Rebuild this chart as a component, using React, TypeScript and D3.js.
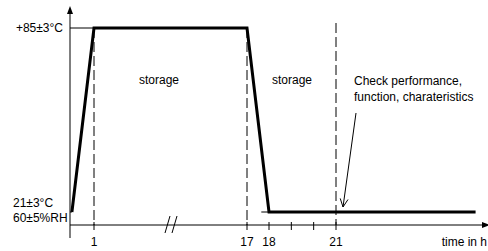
import * as d3 from 'd3'

// temperature profile (hours, °C)
const profileHours = [0.08, 1, 17, 18, 27.25]
const profileTemps = [21, 85, 85, 21, 21]
const dashedHours = [1, 17, 21]
const tickHours = [1, 17, 18, 19, 20, 21]
const tickLabels = ['1', '17', '18', '21']
const levelLabels = ['+85±3°C', '21±3°C', '60±5%RH']
const regionLabels = ['storage', 'storage']
const noteLines = ['Check performance,', 'function, charateristics']

const W = 488
const H = 251

export default function App() {
  // broken time axis: 1 → 17 squeezed
  const x = d3.scaleLinear().domain([0, 1, 17, 18, 21, 30]).range([70, 94, 247, 269, 336, 537])
  const y = d3.scaleLinear().domain([21, 85]).range([212, 28])
  const axisY = 225
  const font = 'Liberation Sans, Arial, sans-serif'

  const pts: [number, number][] = profileHours.map((h, i) => [x(h), y(profileTemps[i])])
  const line = d3.line()(pts) || ''

  const arrow = (x1: number, y1: number, x2: number, y2: number, sz: number) => {
    const a = Math.atan2(y2 - y1, x2 - x1)
    const p1 = [x2 - sz * Math.cos(a - 0.45), y2 - sz * Math.sin(a - 0.45)]
    const p2 = [x2 - sz * Math.cos(a + 0.45), y2 - sz * Math.sin(a + 0.45)]
    return `M${p1[0]},${p1[1]}L${x2},${y2}L${p2[0]},${p2[1]}`
  }

  return (
    <svg width={W} height={H} style={{ position: 'absolute', left: 0, top: 0, background: '#fff' }}>
      {/* axes */}
      <line x1={x(0)} x2={x(0)} y1={12} y2={238} stroke="#000" strokeWidth={1} />
      <path d={`M${x(0) - 3},${14}L${x(0)},${6}L${x(0) + 3},${14}Z`} fill="#000" />
      <line x1={x(0)} x2={484} y1={axisY} y2={axisY} stroke="#000" strokeWidth={1} />
      <path d={`M482,${axisY - 3}L490,${axisY}L482,${axisY + 3}Z`} fill="#000" />

      {tickHours.map(h => (
        <line key={h} x1={x(h)} x2={x(h)} y1={axisY - 3} y2={axisY + 5} stroke="#000" strokeWidth={1} />
      ))}

      {/* axis break */}
      {[165, 172].map(bx => (
        <line key={bx} x1={bx} x2={bx + 5} y1={233} y2={216} stroke="#000" strokeWidth={1} />
      ))}

      {/* dashed reference lines */}
      {dashedHours.map((h, i) => (
        <line
          key={h}
          x1={x(h)}
          x2={x(h)}
          y1={i === 2 ? 23 : y(85)}
          y2={axisY}
          stroke="#000"
          strokeWidth={1}
          strokeDasharray="10,4"
        />
      ))}

      {/* level marks */}
      <line x1={x(0)} x2={x(1)} y1={y(85)} y2={y(85)} stroke="#000" strokeWidth={1} />
      <line x1={x(0)} x2={x(0.08)} y1={y(21)} y2={y(21)} stroke="#000" strokeWidth={1} />
      <line x1={x(17.65)} x2={x(18)} y1={y(21)} y2={y(21)} stroke="#000" strokeWidth={1} />

      {/* profile */}
      <path d={line} fill="none" stroke="#000" strokeWidth={3} strokeLinejoin="miter" />

      {/* texts */}
      <g fontFamily={font} fontSize={12} fill="#000">
        <text x={63} y={y(85) + 4} textAnchor="end">{levelLabels[0]}</text>
        <text x={13} y={207}>{levelLabels[1]}</text>
        <text x={13} y={222}>{levelLabels[2]}</text>
        {tickLabels.map(t => (
          <text key={t} x={x(+t)} y={246} textAnchor="middle">{t}</text>
        ))}
        <text x={487} y={246} textAnchor="end">time in h</text>
        <text x={159} y={84} textAnchor="middle">{regionLabels[0]}</text>
        <text x={292} y={84} textAnchor="middle">{regionLabels[1]}</text>
        <text x={354} y={85}>{noteLines[0]}</text>
        <text x={354} y={101}>{noteLines[1]}</text>
      </g>

      {/* hand-drawn arrow */}
      <line x1={356} y1={113} x2={343} y2={207} stroke="#000" strokeWidth={1} />
      <path d={arrow(356, 113, 343, 207, 9)} fill="none" stroke="#000" strokeWidth={1} />
    </svg>
  )
}
